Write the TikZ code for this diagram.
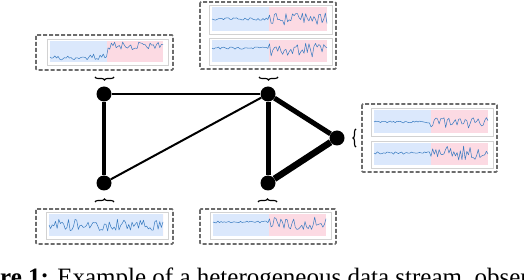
\documentclass[tikz,border=0pt]{standalone}
\usepackage{fontspec}
\setmainfont{Liberation Serif}
\usetikzlibrary{decorations.pathreplacing}

\definecolor{calm}{RGB}{219,232,252}
\definecolor{drift}{RGB}{252,218,227}
\definecolor{trace}{RGB}{55,122,192}

% one small time-series panel: shaded area (#1,#2)-(#3,#4), change at #5,
% levels #6/#7 and noise #8/#9 before/after the change
\newcommand{\panel}[9]{%
  \draw[axisframe] ({#1-3},{#2-2}) rectangle ({#3+5},{#4+3});
  \fill[calm] (#1,#2) rectangle (#5,#4);
  \fill[drift] (#5,#2) rectangle (#3,#4);
  \draw[trace] (#1,#6) \foreach \t in {1,...,70} {
    -- ({#1+\t*(#3-#1)/70}, {(#1+\t*(#3-#1)/70 < #5) ? (#6+#8*rand) : (#7+#9*rand)}) };
}

\begin{document}
\begin{tikzpicture}[
    x=1pt, y=-1pt,
    vertex/.style={circle, fill=black, inner sep=0pt, minimum size=15pt},
    weak/.style={line width=2pt},
    medium/.style={line width=3.2pt},
    strong/.style={line width=5pt},
    heaviest/.style={line width=6.5pt},
    plotbox/.style={draw=gray!85!black, line width=1.6pt, dash pattern=on 4pt off 2pt, rounded corners=1pt},
    axisframe/.style={draw=gray!35, line width=0.6pt},
    trace/.style={draw=trace, line width=0.5pt, line join=round},
    curly/.style={decorate, decoration={brace, amplitude=3pt}, line width=1.1pt}
]
\useasboundingbox (0,0) rectangle (524,280);
\clip (0,0) rectangle (524,280);
\pgfmathsetseed{11}

% graph
\node[vertex] (a) at (104,94) {};
\node[vertex] (b) at (268,94) {};
\node[vertex] (c) at (104,183) {};
\node[vertex] (d) at (268,183) {};
\node[vertex] (e) at (337,138) {};
\draw[weak] (a) -- (b);
\draw[medium] (a) -- (c);
\draw[weak] (c) -- (b);
\draw[strong] (b) -- (d);
\draw[strong] (b) -- (e);
\draw[heaviest] (d) -- (e);

% observations of each vertex
\draw[plotbox] (36,35) rectangle (173,70);
\panel{50}{41}{163}{62}{107}{57}{46}{3}{4}
\draw[plotbox] (200,2) rectangle (336,69);
\panel{212}{7}{327}{31}{269}{19}{19}{1.2}{6}
\panel{212}{40}{327}{62}{269}{48}{50}{1.2}{7}
\draw[plotbox] (362,104) rectangle (497,172);
\panel{374}{110}{488}{133}{431}{122}{122}{1}{6}
\panel{374}{143}{488}{165}{431}{153}{153}{1.2}{7}
\draw[plotbox] (36,209) rectangle (173,244);
\panel{49}{214}{163}{236}{163}{225}{225}{6}{6}
\draw[plotbox] (200,209) rectangle (336,244);
\panel{213}{214}{326}{236}{269}{222}{224}{1}{7}

% braces
\coordinate (ba1) at (95,77);   \coordinate (ba2) at (114,77);
\coordinate (bb1) at (259,77);  \coordinate (bb2) at (278,77);
\coordinate (bc1) at (95,202);  \coordinate (bc2) at (114,202);
\coordinate (bd1) at (258,202); \coordinate (bd2) at (277,202);
\coordinate (be1) at (356,147); \coordinate (be2) at (356,129);
\draw[curly, decoration={mirror}] (ba1) -- (ba2);
\draw[curly, decoration={mirror}] (bb1) -- (bb2);
\draw[curly] (bc1) -- (bc2);
\draw[curly] (bd1) -- (bd2);
\draw[curly] (be1) -- (be2);

% caption, cut by the frame
\node[anchor=base west, inner sep=0pt, font=\fontsize{25}{30}\selectfont] (cap) at (0,285)
  {\textbf{re 1:} Example of a heterogeneous data stream, obser};
\end{tikzpicture}
\end{document}
